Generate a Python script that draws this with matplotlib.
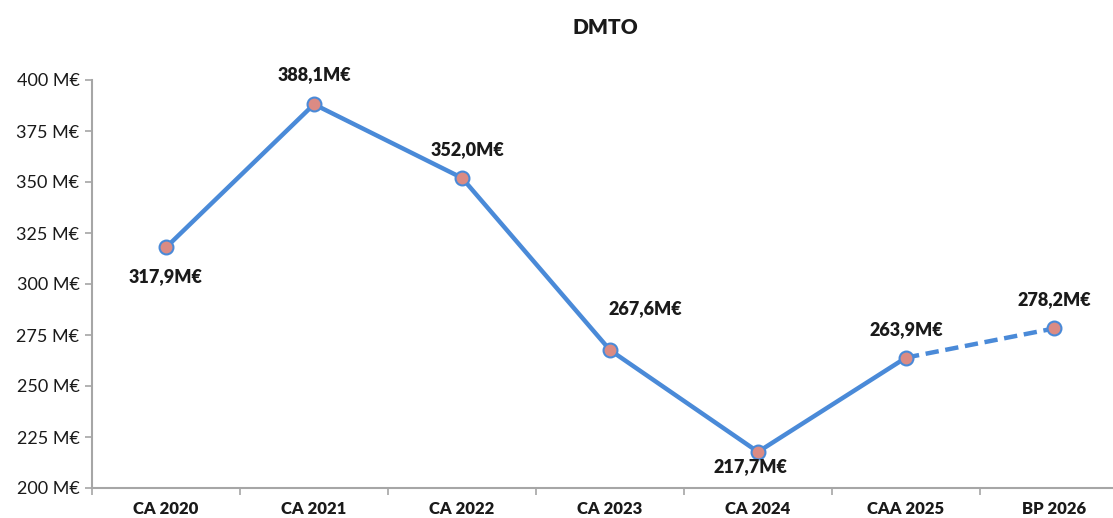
import matplotlib.pyplot as plt
from matplotlib.ticker import FixedLocator, FuncFormatter

plt.rcParams['font.family'] = ['Lato', 'DejaVu Sans']

# DMTO par exercice (M€)
categories = ['CA 2020', 'CA 2021', 'CA 2022', 'CA 2023', 'CA 2024', 'CAA 2025', 'BP 2026']
values = [317.9, 388.1, 352.0, 267.6, 217.7, 263.9, 278.2]
# label offsets in pixels relative to each point
label_offsets = [(0, -29), (0, 30), (6, 28), (35, 42), (-7, -15), (0, 28), (0, 29)]
yticks = [200, 225, 250, 275, 300, 325, 350, 375, 400]

line_color = '#4a8ad8'
marker_face = '#db8b84'
text_color = '#1a1a1a'
spine_color = '#a6a6a6'

fig = plt.figure(figsize=(11.13, 5.18), dpi=100)
ax = fig.add_axes([92 / 1113, 30 / 518, 1036 / 1113, 408 / 518])

x = list(range(len(values)))
marker_kw = dict(marker='o', markersize=10, markerfacecolor=marker_face,
                 markeredgecolor=line_color, markeredgewidth=1.5)

# realised values solid, forecast dashed
ax.plot(x[:-1], values[:-1], color=line_color, linewidth=3.2, zorder=2)
ax.plot(x[-2:], values[-2:], color=line_color, linewidth=3.2,
        linestyle=(0, (3, 1.5)), zorder=2)
ax.plot(x, values, linestyle='none', zorder=3, **marker_kw)

for xi, v, (dx, dy) in zip(x, values, label_offsets):
    ax.annotate(f"{v:.1f}".replace('.', ',') + 'M€', (xi, v),
                xytext=(dx, dy), textcoords='offset pixels',
                ha='center', va='center', fontsize=13, fontweight='heavy',
                color=text_color)

ax.set_xlim(-0.5, len(values) - 0.5)
ax.set_ylim(200, 400)
ax.yaxis.set_major_locator(FixedLocator(yticks))
ax.yaxis.set_major_formatter(FuncFormatter(lambda v, _: f"{v:.0f} M€"))

ax.set_xticks(x)
ax.set_xticklabels(categories, fontweight='heavy', fontsize=12, color=text_color)
ax.xaxis.set_minor_locator(FixedLocator([i + 0.5 for i in range(-1, len(values))]))
ax.tick_params(axis='x', which='major', length=0, pad=9)
ax.tick_params(axis='x', which='minor', length=5, color=spine_color, width=1.2)
ax.tick_params(axis='y', length=5, color=spine_color, width=1.2,
               labelsize=13, labelcolor=text_color, pad=4)

for side in ('top', 'right'):
    ax.spines[side].set_visible(False)
for side in ('left', 'bottom'):
    ax.spines[side].set_color(spine_color)
    ax.spines[side].set_linewidth(1.5)

fig.text(605 / 1113, 1 - 28 / 518, 'DMTO', ha='center', va='center',
         fontsize=15, fontweight='heavy', color=text_color)

fig.savefig('out.png', dpi=100)
